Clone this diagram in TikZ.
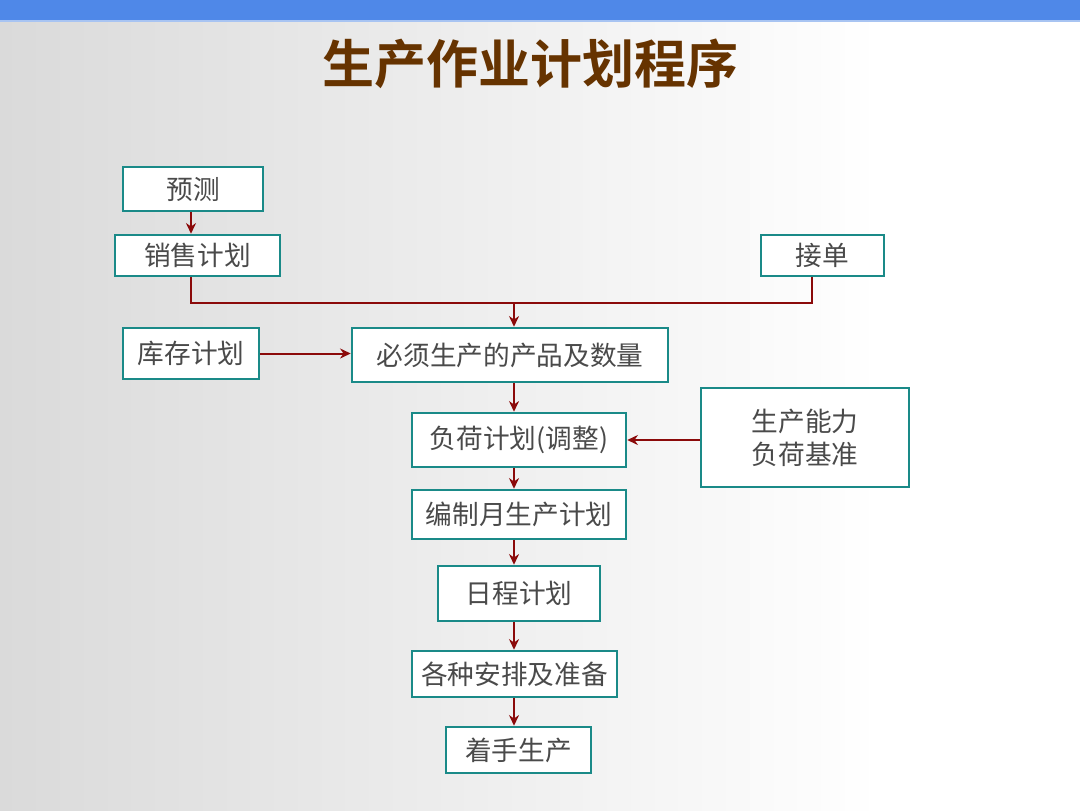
\documentclass[tikz,border=0pt]{standalone}
\usepackage{fontspec}
\newfontfamily\cjk{Noto Sans CJK SC}
\newfontfamily\cjkb{Noto Sans CJK SC Bold}
\usetikzlibrary{arrows.meta}
\definecolor{barblue}{HTML}{4F88E8}
\definecolor{barline}{HTML}{A8C4F2}
\definecolor{titlebrown}{HTML}{663300}
\definecolor{boxteal}{HTML}{1A8A88}
\definecolor{arrred}{HTML}{8B0A0A}
\definecolor{txtgray}{HTML}{4A4A4A}
\definecolor{bgleft}{HTML}{DADADA}
\tikzset{
  box/.style={draw=boxteal, line width=1.9pt, fill=white, inner sep=0pt, align=center,
    font=\cjk\fontsize{20}{25}\selectfont, text=txtgray},
  arr/.style={draw=arrred, line width=1.5pt, -{Stealth[length=8pt,width=7.5pt]}},
  ln/.style={draw=arrred, line width=1.5pt}
}
\begin{document}
\begin{tikzpicture}[x=0.75pt,y=-0.75pt]
\useasboundingbox (0,0) rectangle (1080,810);
\fill[white] (0,0) rectangle (1080,810);
\shade[left color=bgleft, right color=white] (0,20) rectangle (880,810);
\fill[barblue] (0,0) rectangle (1080,20);
\fill[barline] (0,20) rectangle (1080,22);
\node[font=\cjkb\fontsize{39}{44}\selectfont, text=titlebrown] (title) at (530,64) {生产作业计划程序};

\node[box, minimum width=105pt, minimum height=33pt] (forecast) at (193,189) {预测};
\node[box, minimum width=123.75pt, minimum height=30.75pt] (sales) at (197.5,255.5) {销售计划};
\node[box, minimum width=92.25pt, minimum height=30.75pt] (order) at (822.5,255.5) {接单};
\node[box, minimum width=102pt, minimum height=38.25pt] (stock) at (191,353.5) {库存计划};
\node[box, minimum width=237pt, minimum height=40.5pt] (must) at (510,355) {必须生产的产品及数量};
\node[box, minimum width=160.5pt, minimum height=40.5pt] (load) at (519,440) {负荷计划(调整)};
\node[box, minimum width=156pt, minimum height=74.25pt] (cap) at (805,437.5) {生产能力\\负荷基准};
\node[box, minimum width=160.5pt, minimum height=36.75pt] (month) at (519,514.5) {编制月生产计划};
\node[box, minimum width=121.5pt, minimum height=41.25pt] (daily) at (519,593.5) {日程计划};
\node[box, minimum width=153.75pt, minimum height=34.5pt] (prep) at (514.5,674) {各种安排及准备};
\node[box, minimum width=108.75pt, minimum height=34.5pt] (start) at (518.5,750) {着手生产};

\coordinate (lx) at (191,0);
\coordinate (sp) at (514,0);
\coordinate (rx) at (812,0);
\coordinate (hy) at (0,303);

\draw[arr] (forecast.south -| lx) -- (sales.north -| lx);
\draw[ln] (sales.south -| lx) -- (lx |- hy) -- (rx |- hy) -- (order.south -| rx);
\draw[arr] (sp |- hy) -- (must.north -| sp);
\draw[arr] (stock.east) -- (must.west |- stock.east);
\draw[arr] (cap.west |- load.east) -- (load.east);
\draw[arr] (must.south -| sp) -- (load.north -| sp);
\draw[arr] (load.south -| sp) -- (month.north -| sp);
\draw[arr] (month.south -| sp) -- (daily.north -| sp);
\draw[arr] (daily.south -| sp) -- (prep.north -| sp);
\draw[arr] (prep.south -| sp) -- (start.north -| sp);
\end{tikzpicture}
\end{document}
